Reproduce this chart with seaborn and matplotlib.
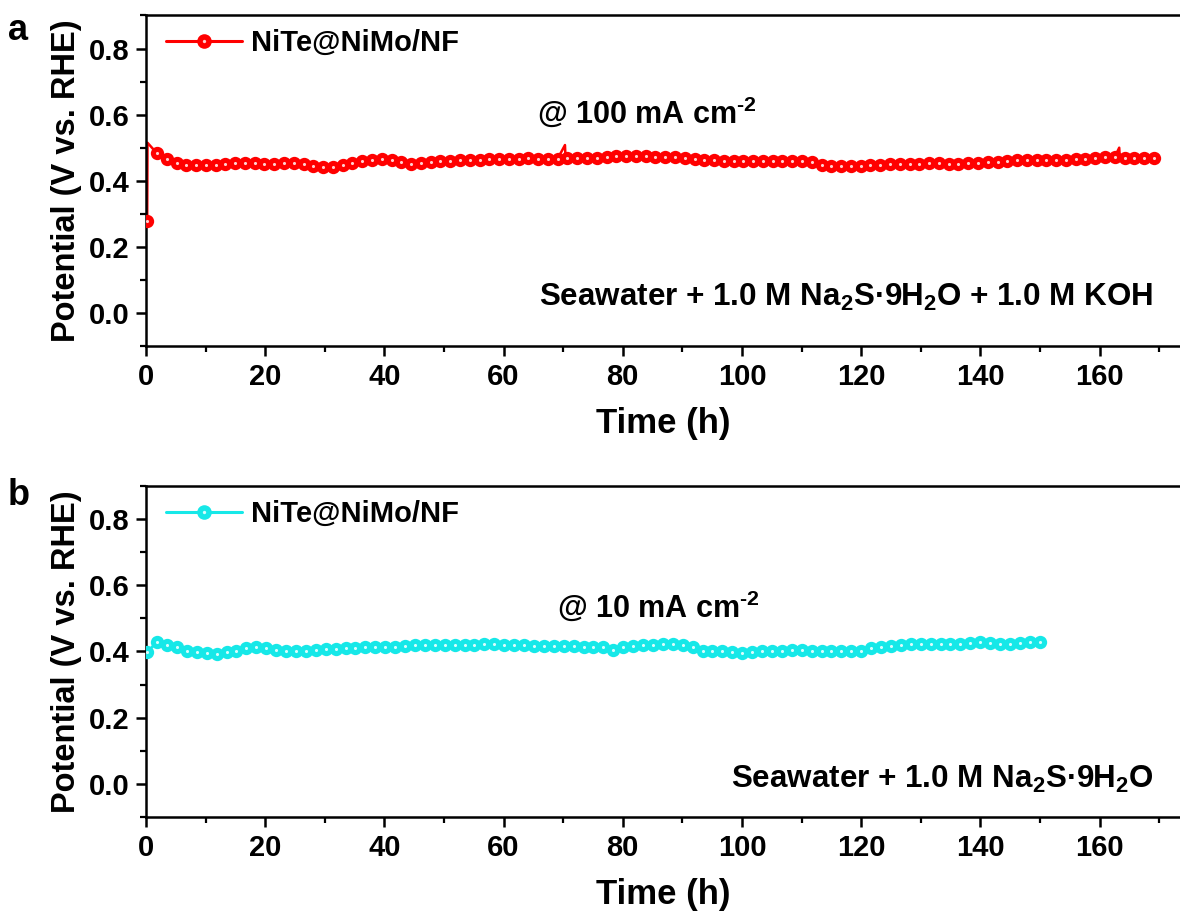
import numpy as np
import pandas as pd
import seaborn as sns
import matplotlib
matplotlib.use("Agg")
import matplotlib.pyplot as plt
from matplotlib.lines import Line2D
from matplotlib.legend_handler import HandlerTuple
from matplotlib.ticker import MultipleLocator

# ---------------- data ----------------
label_a = "NiTe@NiMo/NF"
label_b = "NiTe@NiMo/NF"
step_a = 1.64          # sampling interval of plotted markers (h)
step_b = 1.664
start_h = 0.2

pot_a = [0.277, 0.483, 0.465, 0.454, 0.449, 0.448, 0.448, 0.448, 0.452, 0.454,
         0.454, 0.453, 0.452, 0.452, 0.453, 0.453, 0.452, 0.446, 0.443, 0.442,
         0.447, 0.454, 0.460, 0.463, 0.466, 0.462, 0.458, 0.452, 0.454, 0.457,
         0.459, 0.461, 0.462, 0.462, 0.463, 0.465, 0.465, 0.466, 0.466, 0.468,
         0.466, 0.466, 0.467, 0.468, 0.468, 0.469, 0.470, 0.473, 0.475, 0.476,
         0.476, 0.475, 0.473, 0.472, 0.471, 0.469, 0.466, 0.464, 0.462, 0.461,
         0.460, 0.460, 0.460, 0.461, 0.461, 0.461, 0.461, 0.460, 0.457, 0.449,
         0.445, 0.445, 0.445, 0.446, 0.447, 0.449, 0.450, 0.450, 0.451, 0.452,
         0.453, 0.453, 0.452, 0.452, 0.453, 0.454, 0.456, 0.456, 0.459, 0.462,
         0.463, 0.463, 0.463, 0.463, 0.463, 0.465, 0.465, 0.470, 0.472, 0.472,
         0.468, 0.468, 0.470, 0.470]
# short transients in panel a (time h, potential V)
spike_t_a = [0.25, 70.3, 70.4, 163.3, 163.4]
spike_v_a = [0.515, 0.508, 0.467, 0.500, 0.471]

pot_b = [0.398, 0.430, 0.420, 0.413, 0.402, 0.398, 0.395, 0.393, 0.398, 0.403,
         0.410, 0.413, 0.410, 0.405, 0.403, 0.400, 0.403, 0.405, 0.407, 0.408,
         0.410, 0.412, 0.413, 0.413, 0.413, 0.415, 0.417, 0.420, 0.420, 0.420,
         0.420, 0.420, 0.420, 0.420, 0.422, 0.422, 0.420, 0.420, 0.420, 0.418,
         0.417, 0.417, 0.418, 0.417, 0.415, 0.413, 0.413, 0.405, 0.415, 0.418,
         0.420, 0.420, 0.422, 0.422, 0.420, 0.415, 0.402, 0.400, 0.400, 0.398,
         0.395, 0.398, 0.400, 0.402, 0.403, 0.405, 0.405, 0.403, 0.402, 0.402,
         0.402, 0.402, 0.403, 0.410, 0.415, 0.417, 0.420, 0.422, 0.422, 0.422,
         0.422, 0.422, 0.422, 0.427, 0.428, 0.425, 0.423, 0.423, 0.425, 0.428,
         0.428]

note_a = "@ 100 mA cm$^{\\text{-}2}$"
note_b = "@ 10 mA cm$^{\\text{-}2}$"
elec_a = "Seawater + 1.0 M Na$_2$S·9H$_2$O + 1.0 M KOH"
elec_b = "Seawater + 1.0 M Na$_2$S·9H$_2$O"
xticks = [0, 20, 40, 60, 80, 100, 120, 140, 160]
yticks = [0.0, 0.2, 0.4, 0.6, 0.8]

# ---------------- style ----------------
sns.set_style("ticks")
plt.rcParams["font.family"] = ["Liberation Sans", "DejaVu Sans"]
plt.rcParams["font.weight"] = "bold"
plt.rcParams["text.color"] = "black"
plt.rcParams["axes.labelcolor"] = "black"
plt.rcParams["xtick.color"] = "black"
plt.rcParams["ytick.color"] = "black"
plt.rcParams["axes.edgecolor"] = "black"
plt.rcParams["mathtext.fontset"] = "custom"
plt.rcParams["mathtext.rm"] = "Liberation Sans:bold"
plt.rcParams["mathtext.it"] = "Liberation Sans:bold"
plt.rcParams["mathtext.bf"] = "Liberation Sans:bold"

fig = plt.figure(figsize=(11.8, 9.21), dpi=100)
W, H = 1180, 921
def box(l, t, r, b):
    return [l / W, 1 - b / H, (r - l) / W, (b - t) / H]

ax_a = fig.add_axes(box(146, 15.5, 1180, 346))
ax_b = fig.add_axes(box(146, 486, 1180, 817))


def draw(ax, pot, step, spike_t, spike_v, color, halo, label):
    t = start_h + step * np.arange(len(pot))
    df = pd.DataFrame({"t": t, "v": pot})
    line = pd.concat([df, pd.DataFrame({"t": spike_t, "v": spike_v})])
    line = line.sort_values("t", kind="stable")
    sns.lineplot(data=line, x="t", y="v", sort=False, color=color, lw=1.8,
                 ax=ax, zorder=2)
    sns.scatterplot(data=df, x="t", y="v", color=color, s=92, linewidth=0,
                    ax=ax, zorder=3)
    sns.scatterplot(data=df, x="t", y="v", color=halo, s=5, linewidth=0,
                    ax=ax, zorder=4)
    h1 = Line2D([], [], color=color, lw=2.2, marker="o", ms=10.5, mew=0)
    h2 = Line2D([], [], color=halo, lw=0, marker="o", ms=2.4, mew=0)
    ax.legend([(h1, h2)], [label],
              handler_map={tuple: HandlerTuple(ndivide=1, pad=0)},
              loc="upper left", bbox_to_anchor=(0.0, 1.02), frameon=False,
              handlelength=2.6, handletextpad=0.3, borderaxespad=0.3,
              prop={"size": 21, "weight": "bold"})


draw(ax_a, pot_a, step_a, spike_t_a, spike_v_a, "#FF0000", "#FFD0D0", label_a)
draw(ax_b, pot_b, step_b, [], [], "#16E8E8", "#D8FCFC", label_b)

for ax in (ax_a, ax_b):
    ax.set_xlim(0, 173.5)
    ax.set_ylim(-0.1, 0.9)
    ax.set_xticks(xticks)
    ax.set_yticks(yticks)
    ax.set_yticklabels([f"{v:.1f}" for v in yticks])
    ax.xaxis.set_minor_locator(MultipleLocator(10))
    ax.yaxis.set_minor_locator(MultipleLocator(0.1))
    ax.tick_params(which="major", direction="out", length=7, width=1.8,
                   labelsize=21, pad=5, colors="black")
    ax.tick_params(which="minor", direction="out", length=4, width=1.6,
                   colors="black")
    for lab in ax.get_xticklabels() + ax.get_yticklabels():
        lab.set_fontweight("bold")
    ax.spines["right"].set_visible(False)
    for s in ("left", "bottom", "top"):
        ax.spines[s].set_linewidth(1.8)
        ax.spines[s].set_color("black")
        ax.spines[s].set_visible(True)
    ax.set_xlabel("Time (h)", fontsize=25, fontweight="bold", labelpad=12)
    ax.set_ylabel("Potential (V vs. RHE)", fontsize=23.5, fontweight="bold",
                  labelpad=5)

ax_a.text(84, 0.605, note_a, fontsize=22, fontweight="bold", ha="center",
          va="center")
ax_b.text(86, 0.537, note_b, fontsize=22, fontweight="bold", ha="center",
          va="center")
ax_a.text(169, 0.048, elec_a, fontsize=22.6, fontweight="bold", ha="right",
          va="center")
ax_b.text(169, 0.012, elec_b, fontsize=22.6, fontweight="bold", ha="right",
          va="center")

fig.text(8 / W, 1 - 30 / H, "a", fontsize=26, fontweight="bold", va="center")
fig.text(8 / W, 1 - 495 / H, "b", fontsize=26, fontweight="bold", va="center")

fig.savefig("out.png", dpi=100)
